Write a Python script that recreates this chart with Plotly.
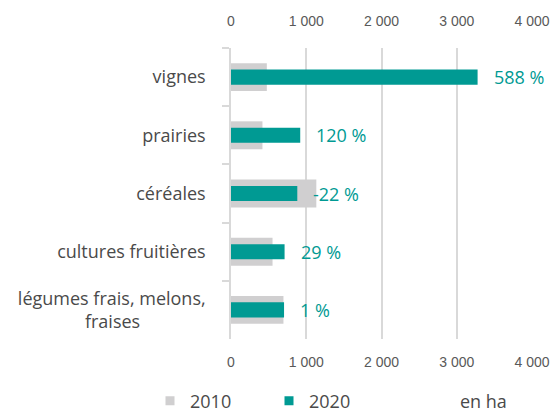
import plotly.graph_objects as go

categories = ["vignes", "prairies", "céréales", "cultures fruitières",
              "légumes frais, melons,<br>fraises" + "\u00a0" * 14]
values_2010 = [476, 418, 1134, 552, 697]
values_2020 = [3277, 920, 881, 712, 705]
pct_labels = ["588 %", "120 %", "-22 %", "29 %", "1 %"]
x_ticks = [0, 1000, 2000, 3000, 4000]
x_tick_labels = ["0", "1 000", "2 000", "3 000", "4 000"]

GREY = "#d0cfd0"
TEAL = "#009a93"
TEXT_FONT = "Open Sans"
TEXT_COLOR = "#4a4a4a"
FS = 18

L, R, T, B = 231, 20, 48, 73
PW, PH = 552 - L - R, 412 - T - B

fig = go.Figure()
fig.add_trace(go.Bar(y=categories, x=values_2010, orientation="h", name="2010",
                     marker=dict(color=GREY, line=dict(width=0)), width=0.48,
                     showlegend=False))
fig.add_trace(go.Bar(y=categories, x=values_2020, orientation="h", name="2020",
                     marker=dict(color=TEAL, line=dict(width=0)), width=0.26,
                     xaxis="x2", showlegend=False))
# legend entries with small square keys
for name, col in (("2010", GREY), ("2020", TEAL)):
    fig.add_trace(go.Scatter(x=[None], y=[None], mode="markers", name=name,
                             marker=dict(symbol="square", size=9, color=col),
                             showlegend=True))

for cat, v, lab in zip(categories, values_2020, pct_labels):
    fig.add_annotation(x=v, y=cat, text=lab, xref="x", yref="y", xanchor="left",
                       yanchor="middle", xshift=14, showarrow=False,
                       font=dict(family=TEXT_FONT, size=FS, color=TEAL))

fig.add_annotation(x=(483 - L) / PW, y=-(401 - (T + PH)) / PH, xref="paper", yref="paper",
                   text="en ha", showarrow=False, xanchor="center", yanchor="middle",
                   font=dict(family=TEXT_FONT, size=FS, color=TEXT_COLOR))

axis_common = dict(range=[0, 4000], tickvals=x_ticks, ticktext=x_tick_labels,
                   showgrid=True, gridcolor="#d9d9d9", gridwidth=1.5,
                   zeroline=False, showline=False, automargin=False,
                   tickfont=dict(family="Liberation Sans", size=14, color="#595959"),
                   fixedrange=True)

fig.update_layout(
    width=552, height=412,
    margin=dict(l=L, r=R, t=T, b=B, autoexpand=False),
    paper_bgcolor="white", plot_bgcolor="white",
    barmode="overlay",
    xaxis=dict(**axis_common, side="bottom", ticklabelstandoff=13),
    xaxis2=dict(**axis_common, side="top", overlaying="x", matches="x",
                ticklabelstandoff=18),
    yaxis=dict(autorange="reversed", showline=True, linecolor="#d9d9d9", linewidth=1.5,
               ticks="outside", tickson="boundaries", ticklen=7, tickcolor="#d9d9d9",
               tickwidth=1.5, ticklabelstandoff=20, automargin=False, fixedrange=True,
               tickfont=dict(family=TEXT_FONT, size=FS, color=TEXT_COLOR)),
    legend=dict(orientation="h", xref="container", yref="container",
                x=150 / 552, y=(412 - 401) / 412, xanchor="left", yanchor="middle",
                font=dict(family=TEXT_FONT, size=FS, color=TEXT_COLOR),
                entrywidth=74, entrywidthmode="pixels", traceorder="normal"),
    showlegend=True,
)

fig.write_html("out.html", config={"displayModeBar": False},
               post_script="document.body.style.margin='0px';")
